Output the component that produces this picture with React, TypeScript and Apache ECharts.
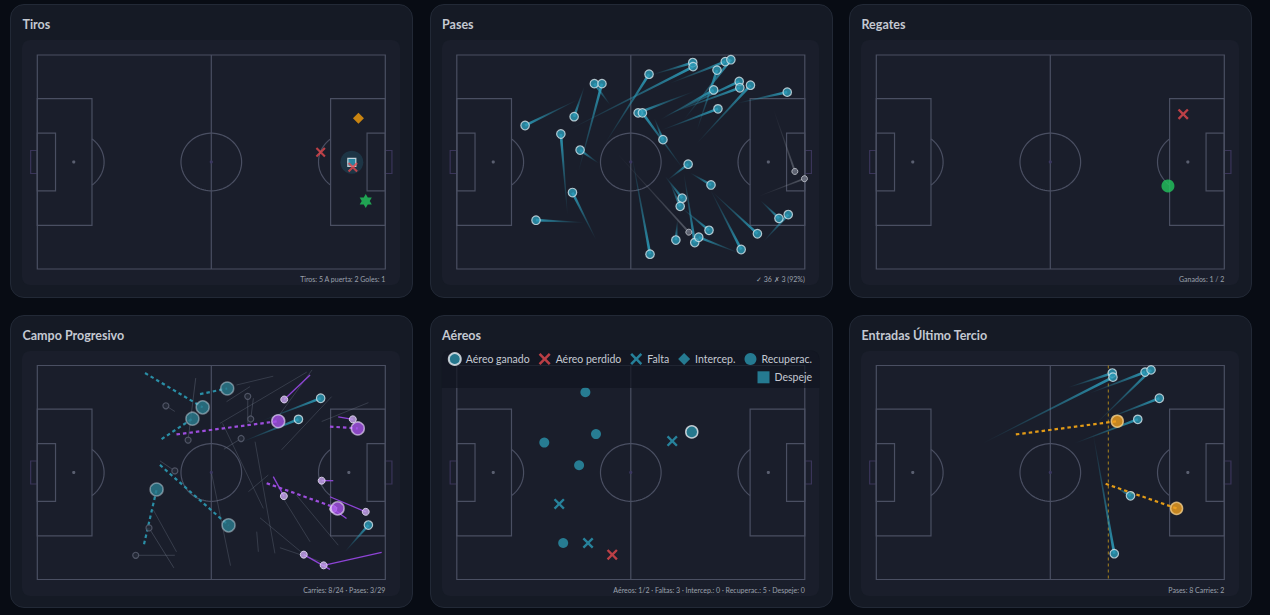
import React, { useEffect, useRef } from "react";
import * as echarts from "echarts";

// ---------- texts ----------
const TITLES = ["Tiros", "Pases", "Regates", "Campo Progresivo", "Aéreos", "Entradas Último Tercio"];
const FOOTERS = [
  "Tiros: 5 A puerta: 2 Goles: 1",
  "✓ 36 ✗ 3 (92%)",
  "Ganados: 1 / 2",
  "Carries: 8/24 · Pases: 3/29",
  "Aéreos: 1/2 · Faltas: 3 · Intercep.: 0 · Recuperac.: 5 · Despeje: 0",
  "Pases: 8 Carries: 2",
];

// ---------- data (metres, pitch 105 x 68, y from top) ----------
// Tiros
const shotGoals = [[99.1, 46.4]];
const shotSaved = [[96.9, 20.1]];
const shotBlocked = [[94.9, 34.1]];
const shotMissed = [[85.5, 30.9], [95.2, 35.7]];

// Pases [x1, y1, x2, y2]
const passesCompleted = [
  [36.7, 14.1, 20.6, 22.4], [38.5, 10.0, 35.4, 19.6], [46.3, 15.9, 41.5, 9.1], [36.7, 37.0, 43.8, 9.1],
  [33.4, 50.8, 31.4, 25.1], [42.8, 34.4, 37.2, 30.2], [42.0, 58.7, 34.9, 43.7], [38.3, 53.2, 23.9, 52.5],
  [44.8, 28.0, 58.0, 6.1], [58.9, 6.3, 71.2, 2.4], [34.2, 23.6, 71.3, 3.7], [64.4, 9.0, 81.0, 2.1],
  [68.5, 20.6, 82.7, 1.5], [72.5, 23.8, 78.5, 4.8], [61.4, 20.6, 77.5, 11.1], [62.4, 19.6, 85.2, 8.4],
  [64.4, 18.5, 85.4, 10.4], [72.5, 28.0, 88.6, 9.6], [84.6, 15.3, 99.7, 11.8], [61.9, 23.8, 78.8, 17.1],
  [71.5, 11.6, 54.7, 18.4], [68.5, 36.5, 56.0, 18.4], [59.6, 20.1, 62.2, 26.9], [63.6, 39.7, 69.8, 34.7],
  [70.5, 37.5, 76.7, 41.3], [62.9, 38.6, 68.0, 45.5], [64.4, 40.7, 67.4, 48.1], [67.9, 48.6, 76.1, 55.7],
  [66.6, 52.3, 66.1, 58.8], [68.5, 37.5, 71.8, 59.6], [85.1, 62.9, 73.0, 57.9], [76.5, 42.8, 85.8, 61.8],
  [77.0, 43.4, 90.7, 56.8], [52.9, 32.3, 58.3, 63.3], [91.6, 46.2, 97.2, 51.9], [92.6, 59.2, 100.0, 50.7],
];
const passesFailed = [
  [48.3, 31.2, 70.0, 56.3], [95.6, 17.4, 102.0, 37.0], [91.1, 44.9, 104.9, 39.3],
];

// Regates
const dribblesWon = [[88.0, 41.6]];
const dribblesLost = [[92.6, 18.8]];

// Campo progresivo [x1, y1, x2, y2]
const progCarriesTeal = [
  [49.1, 9.1, 57.3, 7.3], [32.5, 2.4, 49.9, 13.3], [37.5, 23.4, 46.8, 16.9],
  [32.2, 56.8, 36.0, 39.4], [37.0, 31.6, 57.7, 50.8],
];
const progCarriesPurple = [
  [42.0, 21.9, 72.7, 17.7], [88.3, 19.4, 96.7, 20.0], [69.2, 37.4, 90.6, 45.4],
];
const progPassesTeal = [
  [67.7, 17.6, 85.5, 10.4], [61.9, 24.2, 78.8, 17.1], [92.8, 59.2, 99.9, 50.7],
];
const progPassesPurple = [
  [82.3, 3.0, 74.5, 10.8], [90.8, 16.3, 95.2, 17.1], [89.3, 36.6, 85.8, 36.6], [71.2, 35.3, 74.4, 41.5],
  [88.3, 41.7, 99.1, 46.5], [93.3, 48.6, 89.3, 45.6], [88.3, 64.8, 80.4, 60.1], [103.9, 59.4, 86.4, 63.5],
];
const otherActionsMarked = [
  [63.5, 18.4, 63.5, 9.8], [41.5, 14.6, 38.8, 12.8], [65.2, 10.4, 64.4, 17.0], [47.8, 4.0, 45.5, 23.7],
  [56.3, 26.6, 61.5, 23.2], [37.0, 30.3, 41.5, 33.5], [41.2, 64.3, 33.7, 51.6], [41.5, 60.3, 29.7, 60.3],
];
const otherActions = [
  [60.1, 6.2, 71.2, 3.4], [81.3, 2.1, 55.1, 18.4], [82.9, 1.4, 71.2, 18.4], [88.8, 9.9, 73.7, 26.8],
  [55.9, 18.4, 68.2, 45.4], [65.7, 24.2, 71.7, 59.7], [52.6, 34.3, 58.3, 63.6], [63.7, 40.1, 69.7, 34.8],
  [67.2, 48.4, 80.8, 60.3], [73.2, 57.9, 85.8, 62.4], [78.2, 41.2, 90.8, 57.1], [99.9, 11.8, 85.8, 17.8],
  [57.1, 11.5, 64.2, 6.7], [66.2, 52.8, 66.7, 59.2], [35.0, 45.9, 42.0, 59.2], [74.2, 42.2, 82.3, 56.0],
];

// Aéreos
const aerialWon = [[70.9, 21.1]];
const aerialLost = [[46.9, 60.1]];
const fouls = [[65.0, 24.0], [30.9, 44.0], [39.6, 56.4]];
const interceptions: number[][] = [];
const recoveries = [[38.8, 8.5], [26.4, 24.5], [42.0, 21.8], [36.9, 31.7], [32.1, 56.4]];
const clearances: number[][] = [];

// Entradas último tercio
const finalThirdLine = [[70, 0, 70, 68]];
const entryPasses = [
  [57.9, 7.0, 71.2, 2.4], [32.2, 24.7, 71.4, 3.7], [64.4, 8.8, 81.1, 2.1], [66.4, 18.4, 82.9, 1.4],
  [68.5, 17.3, 85.4, 10.4], [59.9, 24.7, 78.9, 17.1], [72.0, 38.5, 76.7, 41.4], [65.4, 21.5, 71.8, 59.8],
];
const entryCarries = [[42.1, 21.9, 72.7, 17.7], [69.2, 37.6, 90.6, 45.4]];

// ---------- style ----------
const BG = "#080c14";
const CARD = "#151a25";
const CARD_BORDER = "#222936";
const INNER = "#1a1e2b";
const LINE = "#4a4f62";
const GOAL = "#3a3559";
const TEAL = "#2c9ab7";
const FONT = "Lato, 'Noto Sans', sans-serif";

const COL_X = [10, 429.5, 849];
const ROW_Y = [4, 314.5];
const CARD_W = 403;
const CARD_H = 293.5;

const X_PATH = "path://M1.5,0 L5,3.5 L8.5,0 L10,1.5 L6.5,5 L10,8.5 L8.5,10 L5,6.5 L1.5,10 L0,8.5 L3.5,5 L0,1.5 Z";
const STAR6 = "path://M0,-10 L8.66,5 L-8.66,5 Z M0,10 L-8.66,-5 L8.66,-5 Z";

function rgba(hex: string, a: number) {
  const n = parseInt(hex.slice(1), 16);
  return `rgba(${(n >> 16) & 255},${(n >> 8) & 255},${n & 255},${a})`;
}

function pitchSeries(idx: number) {
  return {
    type: "custom",
    xAxisIndex: idx,
    yAxisIndex: idx,
    data: [[52.5, 34]],
    clip: false,
    silent: true,
    z: 1,
    renderItem: (_p: any, api: any) => {
      const c = (x: number, y: number) => api.coord([x, y]);
      const st = { fill: "none", stroke: LINE, lineWidth: 1.2 };
      const poly = (pts: number[][], closed: boolean, style: any = st) => ({
        type: closed ? "polygon" : "polyline",
        shape: { points: pts.map((p) => c(p[0], p[1])) },
        style,
      });
      const rect = (x0: number, y0: number, x1: number, y1: number, style: any = st) =>
        poly([[x0, y0], [x1, y0], [x1, y1], [x0, y1]], true, style);
      const arc = (cx: number, cy: number, r: number, a0: number, a1: number, n = 60) => {
        const pts: number[][] = [];
        for (let k = 0; k <= n; k++) {
          const a = ((a0 + ((a1 - a0) * k) / n) * Math.PI) / 180;
          pts.push([cx + r * Math.cos(a), cy + r * Math.sin(a)]);
        }
        return poly(pts, false);
      };
      const dot = (x: number, y: number, fill: string) => {
        const p = c(x, y);
        return { type: "circle", shape: { cx: p[0], cy: p[1], r: 1.6 }, style: { fill } };
      };
      const goalSt = { fill: "none", stroke: GOAL, lineWidth: 1.2 };
      return {
        type: "group",
        children: [
          rect(-2, 30.34, 0, 37.66, goalSt),
          rect(105, 30.34, 107, 37.66, goalSt),
          rect(0, 0, 105, 68),
          poly([[52.5, 0], [52.5, 68]], false),
          arc(52.5, 34, 9.15, 0, 360, 90),
          rect(0, 13.84, 16.5, 54.16),
          rect(88.5, 13.84, 105, 54.16),
          rect(0, 24.84, 5.5, 43.16),
          rect(99.5, 24.84, 105, 43.16),
          arc(11, 34, 9.15, -53.13, 53.13),
          arc(94, 34, 9.15, 126.87, 233.13),
          dot(11, 34, "#5a5f70"),
          dot(94, 34, "#5a5f70"),
          dot(52.5, 34, "#3b3860"),
        ],
      };
    },
  };
}

function segSeries(name: string, idx: number, data: number[][], style: any, z = 3) {
  return {
    type: "custom",
    name,
    xAxisIndex: idx,
    yAxisIndex: idx,
    data,
    clip: false,
    silent: true,
    z,
    encode: { x: [0, 2], y: [1, 3] },
    renderItem: (_p: any, api: any) => {
      const s = api.coord([api.value(0), api.value(1)]);
      const e = api.coord([api.value(2), api.value(3)]);
      return { type: "line", shape: { x1: s[0], y1: s[1], x2: e[0], y2: e[1] }, style };
    },
  };
}

function taperSeries(name: string, idx: number, data: number[][], color: string, wEnd: number, aEnd: number, z = 3) {
  return {
    type: "custom",
    name,
    xAxisIndex: idx,
    yAxisIndex: idx,
    data,
    clip: false,
    silent: true,
    z,
    encode: { x: [0, 2], y: [1, 3] },
    renderItem: (_p: any, api: any) => {
      const s = api.coord([api.value(0), api.value(1)]);
      const e = api.coord([api.value(2), api.value(3)]);
      const dx = e[0] - s[0];
      const dy = e[1] - s[1];
      const L = Math.hypot(dx, dy) || 1;
      const nx = -dy / L;
      const ny = dx / L;
      const h = wEnd / 2;
      const h0 = 0.25;
      return {
        type: "polygon",
        shape: {
          points: [
            [s[0] + nx * h0, s[1] + ny * h0],
            [e[0] + nx * h, e[1] + ny * h],
            [e[0] - nx * h, e[1] - ny * h],
            [s[0] - nx * h0, s[1] - ny * h0],
          ],
        },
        style: {
          fill: new echarts.graphic.LinearGradient(
            s[0], s[1], e[0], e[1],
            [
              { offset: 0, color: rgba(color, 0) },
              { offset: 0.5, color: rgba(color, aEnd * 0.45) },
              { offset: 1, color: rgba(color, aEnd) },
            ],
            true
          ),
        },
      };
    },
  };
}

function scat(name: string, idx: number, data: number[][], symbol: string, size: number, itemStyle: any, z = 5, keep = false) {
  return {
    type: "scatter",
    name,
    xAxisIndex: idx,
    yAxisIndex: idx,
    data,
    symbol,
    symbolSize: size,
    symbolKeepAspect: keep,
    itemStyle,
    z,
    silent: true,
    emphasis: { disabled: true },
  };
}

const ends = (arr: number[][]) => arr.map((p) => [p[2], p[3]]);

function buildOption() {
  const grids: any[] = [];
  const xAxes: any[] = [];
  const yAxes: any[] = [];
  const graphics: any[] = [];
  for (let i = 0; i < 6; i++) {
    const cx = COL_X[i % 3];
    const ry = ROW_Y[Math.floor(i / 3)];
    grids.push({ left: cx + 27.3, top: ry + 51, width: 348, height: 214, containLabel: false });
    xAxes.push({ type: "value", gridIndex: i, min: 0, max: 105, show: false });
    yAxes.push({ type: "value", gridIndex: i, min: 0, max: 68, inverse: true, show: false });
    graphics.push({
      type: "text",
      x: cx + 12.5,
      y: ry + 20.5,
      z: 20,
      style: {
        text: TITLES[i],
        fill: "#c4c9d2",
        fontSize: 12.5,
        fontWeight: "bold",
        fontFamily: FONT,
        align: "left",
        verticalAlign: "middle",
      },
    });
    graphics.push({
      type: "text",
      x: cx + 375.3,
      y: ry + 275,
      z: 20,
      style: {
        text: FOOTERS[i],
        fill: "#9ba1ac",
        fontSize: 7,
        fontFamily: FONT,
        align: "right",
        verticalAlign: "middle",
      },
    });
  }
  // legend band in Aéreos
  graphics.push({
    type: "rect",
    z: 10,
    shape: { x: COL_X[1] + 12.3, y: ROW_Y[1] + 36, width: 377.7, height: 37.5, r: [8, 8, 0, 0] },
    style: { fill: "rgba(16,21,32,0.72)" },
  });

  const series: any[] = [];
  for (let i = 0; i < 6; i++) series.push(pitchSeries(i));

  // 0 Tiros
  series.push(scat("xG", 0, shotBlocked, "circle", 23, { color: "rgba(43,143,176,0.25)" }, 4));
  series.push(scat("Gol", 0, shotGoals, STAR6, 14, { color: "#22c55e" }, 5, true));
  series.push(scat("A puerta", 0, shotSaved, "diamond", 11, { color: "#f59e0b" }));
  series.push(scat("Bloqueado", 0, shotBlocked, "rect", 8, { color: TEAL, borderColor: "#e8eef2", borderWidth: 1.2 }));
  series.push(scat("Fuera", 0, shotMissed, X_PATH, 10, { color: "#e5484d" }, 6));

  // 1 Pases
  series.push(taperSeries("Pase fallado", 1, passesFailed, "#8a909c", 2, 0.5));
  series.push(taperSeries("Pase", 1, passesCompleted, TEAL, 2.8, 0.95));
  series.push(scat("Pase fallado fin", 1, ends(passesFailed), "circle", 6, { color: "#6b7180", borderColor: "#c9cdd4", borderWidth: 1 }));
  series.push(scat("Pase fin", 1, ends(passesCompleted), "circle", 8.5, { color: TEAL, borderColor: "#d3e4ea", borderWidth: 1.2 }));

  // 2 Regates
  series.push(scat("Regate ganado", 2, dribblesWon, "circle", 13, { color: "#22c55e" }));
  series.push(scat("Regate perdido", 2, dribblesLost, X_PATH, 11, { color: "#e5484d" }));

  // 3 Campo progresivo
  series.push(segSeries("Otras", 3, otherActions, { stroke: "rgba(120,128,146,0.3)", lineWidth: 1 }, 2));
  series.push(segSeries("Otras marcadas", 3, otherActionsMarked, { stroke: "rgba(120,128,146,0.35)", lineWidth: 1 }, 2));
  series.push(scat("Otras inicio", 3, ends(otherActionsMarked), "circle", 6, { color: "#262b38", borderColor: "#5c6273", borderWidth: 1.2 }, 4));
  series.push(segSeries("Pase progresivo morado", 3, progPassesPurple, { stroke: "#8e44d6", lineWidth: 1.3 }, 3));
  series.push(taperSeries("Pase progresivo", 3, progPassesTeal, TEAL, 2.8, 0.95));
  series.push(segSeries("Conducción progresiva", 3, progCarriesTeal, { stroke: "#2a8ea6", lineWidth: 2.2, lineDash: [3.5, 3] }, 3));
  series.push(segSeries("Conducción área", 3, progCarriesPurple, { stroke: "#9d4edd", lineWidth: 2.2, lineDash: [3.5, 3] }, 3));
  series.push(scat("Pase progresivo morado fin", 3, ends(progPassesPurple), "circle", 7, { color: "#c9a6f0", borderColor: "#efe6fb", borderWidth: 1 }));
  series.push(scat("Pase progresivo fin", 3, ends(progPassesTeal), "circle", 8.5, { color: TEAL, borderColor: "#d3e4ea", borderWidth: 1.2 }));
  series.push(scat("Conducción progresiva fin", 3, ends(progCarriesTeal), "circle", 13, { color: "#2a7c8e", borderColor: "rgba(205,220,230,0.6)", borderWidth: 1.5 }));
  series.push(scat("Conducción área fin", 3, ends(progCarriesPurple), "circle", 13, { color: "#a652e8", borderColor: "rgba(235,220,250,0.8)", borderWidth: 1.5 }));

  // 4 Aéreos
  series.push(scat("Recuperac.", 4, recoveries, "circle", 10, { color: "#2a93ad" }));
  series.push(scat("Falta", 4, fouls, X_PATH, 11, { color: "#2a9bb8" }));
  series.push(scat("Aéreo perdido", 4, aerialLost, X_PATH, 11, { color: "#e5484d" }));
  series.push(scat("Aéreo ganado", 4, aerialWon, "circle", 12, { color: "#2a8ea6", borderColor: "#e8eef2", borderWidth: 1.5 }));
  series.push(scat("Intercep.", 4, interceptions, "diamond", 10, { color: "#2a93ad" }));
  series.push(scat("Despeje", 4, clearances, "rect", 10, { color: "#2a93ad" }));

  // 5 Entradas último tercio
  series.push(segSeries("Último tercio", 5, finalThirdLine, { stroke: "#a8821f", lineWidth: 1, lineDash: [3, 3] }, 2));
  series.push(taperSeries("Pase entrada", 5, entryPasses, TEAL, 2.8, 0.95));
  series.push(segSeries("Conducción entrada", 5, entryCarries, { stroke: "#e39b17", lineWidth: 2.2, lineDash: [3.5, 3] }, 3));
  series.push(scat("Pase entrada fin", 5, ends(entryPasses), "circle", 8.5, { color: TEAL, borderColor: "#d3e4ea", borderWidth: 1.2 }));
  series.push(scat("Conducción entrada fin", 5, ends(entryCarries), "circle", 12, { color: "#f0a020", borderColor: "#f6d08a", borderWidth: 1.5 }));

  const legendBase = {
    right: 458,
    orient: "horizontal",
    itemWidth: 12,
    itemHeight: 12,
    itemGap: 9,
    padding: 0,
    selectedMode: false,
    z: 30,
    textStyle: { color: "#c5cad3", fontSize: 10.5, fontFamily: FONT },
  };

  return {
    animation: false,
    backgroundColor: "transparent",
    grid: grids,
    xAxis: xAxes,
    yAxis: yAxes,
    legend: [
      { ...legendBase, top: 352, data: ["Aéreo ganado", "Aéreo perdido", "Falta", "Intercep.", "Recuperac."] },
      { ...legendBase, top: 371.3, data: ["Despeje"] },
    ],
    graphic: graphics,
    series,
  };
}

export default function App() {
  const ref = useRef<HTMLDivElement>(null);
  useEffect(() => {
    const chart = echarts.init(ref.current!, null, { renderer: "svg", width: 1270, height: 615 });
    chart.setOption(buildOption() as any);
    return () => chart.dispose();
  }, []);
  const cards = [];
  for (let i = 0; i < 6; i++) {
    cards.push(
      <div
        key={i}
        style={{
          position: "absolute",
          left: COL_X[i % 3],
          top: ROW_Y[Math.floor(i / 3)],
          width: CARD_W,
          height: CARD_H,
          background: CARD,
          border: `1px solid ${CARD_BORDER}`,
          borderRadius: 14,
          boxSizing: "border-box",
        }}
      >
        <div
          style={{
            position: "absolute",
            left: 11.3,
            top: 35,
            width: 377.7,
            height: 245,
            background: INNER,
            borderRadius: 8,
          }}
        />
      </div>
    );
  }
  return (
    <div style={{ position: "fixed", left: 0, top: 0, width: 1270, height: 615, background: BG, overflow: "hidden" }}>
      {cards}
      <div ref={ref} style={{ position: "absolute", left: 0, top: 0, width: 1270, height: 615 }} />
    </div>
  );
}
